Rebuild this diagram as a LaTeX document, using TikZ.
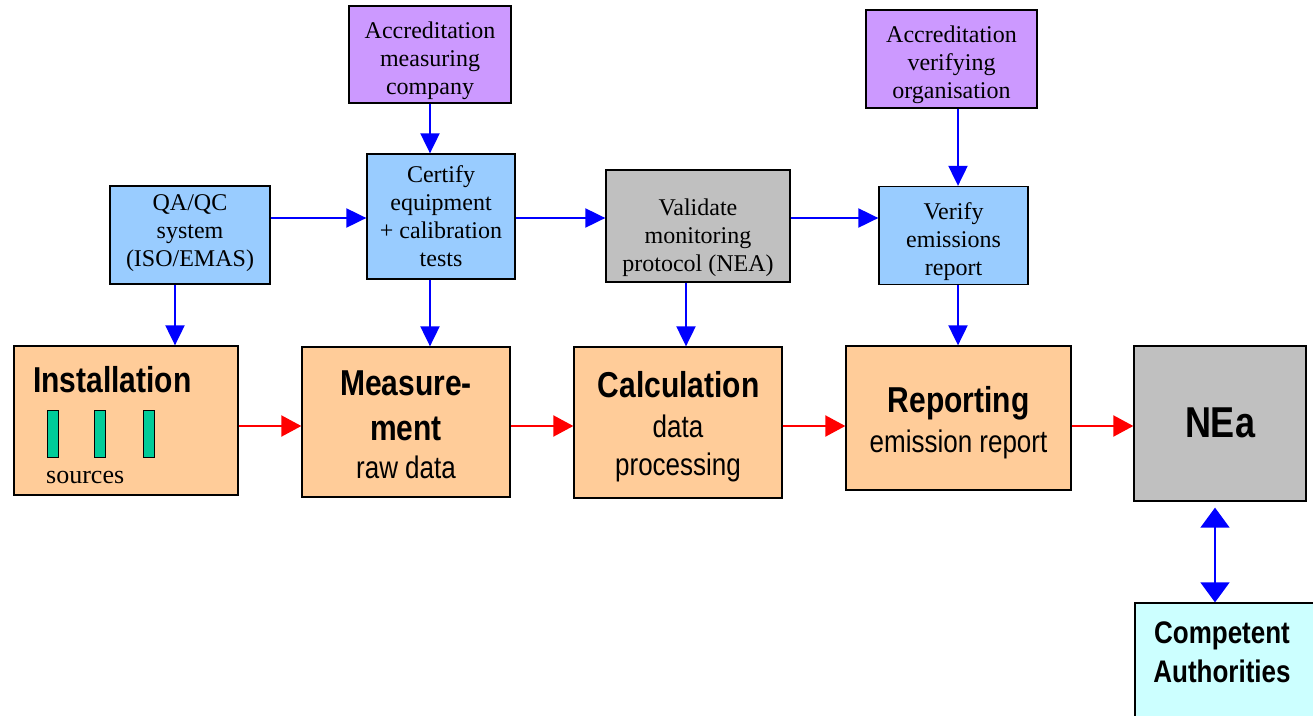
\documentclass[tikz,border=0pt]{standalone}
\usepackage{fontspec}
\setmainfont{Liberation Serif}
\newfontfamily\arialf{Liberation Sans}
\usetikzlibrary{arrows.meta}
\definecolor{lav}{HTML}{CC99FF}
\definecolor{lblue}{HTML}{99CCFF}
\definecolor{peach}{HTML}{FFCC99}
\definecolor{grayb}{HTML}{C0C0C0}
\definecolor{cyanb}{HTML}{CCFFFF}
\definecolor{srcg}{HTML}{00CC99}
\newcommand{\vst}[1]{\scalebox{1}[1.2]{#1}}
\begin{document}
\begin{tikzpicture}[x=1pt,y=-1pt,
  box/.style={draw=black, line width=1.3pt, rectangle, inner sep=0pt},
  ttext/.style={inner sep=0pt, align=center, font=\fontsize{24}{28}\selectfont},
  sbold/.style={inner sep=0pt, anchor=base, font=\arialf\bfseries\fontsize{30}{36}\selectfont},
  sreg/.style={inner sep=0pt, anchor=base, font=\arialf\fontsize{26}{32}\selectfont},
  barrow/.style={draw=blue, line width=2pt, -{Triangle[length=20pt,width=19pt]}},
  rarrow/.style={draw=red, line width=2pt, -{Triangle[length=20pt,width=21pt]}},
  darrow/.style={draw=blue, line width=1.6pt, {Triangle[length=20pt,width=29pt]}-{Triangle[length=20pt,width=29pt]}}
]
\useasboundingbox (0,0) rectangle (1313,715);
\fill[white] (0,0) rectangle (1313,715);

% top boxes
\node[box, fill=lav, minimum width=162pt, minimum height=97pt] (accm) at (430,54.5) {};
\node[ttext] (accmt) at (430,60.5) {Accreditation\\measuring\\company};
\node[box, fill=lav, minimum width=171pt, minimum height=98pt] (accv) at (951.5,59) {};
\node[ttext] (accvt) at (951.5,65) {Accreditation\\verifying\\organisation};
\node[box, fill=lblue, minimum width=160pt, minimum height=98pt] (qa) at (190,235) {};
\node[ttext] (qat) at (190,233) {QA/QC\\system\\(ISO/EMAS)};
\node[box, fill=lblue, minimum width=148pt, minimum height=125pt] (cert) at (441,216.5) {};
\node[ttext] (certt) at (441,216.5) {Certify\\equipment\\+ calibration\\tests};
\node[box, fill=grayb, minimum width=184pt, minimum height=112pt] (val) at (698,226) {};
\node[ttext] (valt) at (698,238) {Validate\\monitoring\\protocol (NEA)};
\node[box, fill=lblue, minimum width=149pt, minimum height=98pt] (ver) at (953.5,235.5) {};
\node[ttext] (vert) at (953.5,241.5) {Verify\\emissions\\report};

% main boxes
\node[box, fill=peach, minimum width=224pt, minimum height=149pt] (inst) at (126,420.5) {};
\node[box, fill=peach, minimum width=208pt, minimum height=150pt] (meas) at (406,422) {};
\node[box, fill=peach, minimum width=208pt, minimum height=151pt] (calc) at (678,422.5) {};
\node[box, fill=peach, minimum width=225pt, minimum height=144pt] (rep) at (958.5,418) {};
\node[box, fill=grayb, minimum width=172pt, minimum height=155pt] (nea) at (1220,423.5) {};
\node[box, fill=cyanb, minimum width=181pt, minimum height=117pt] (ca) at (1225.5,661.5) {};

% texts in main boxes
\node[sbold, anchor=base west] (instt) at (33,392) {\vst{Installation}};
\node[box, line width=1pt, fill=srcg, minimum width=11pt, minimum height=47pt] (src1) at (52.5,433.5) {};
\node[box, line width=1pt, fill=srcg, minimum width=11pt, minimum height=47pt] (src2) at (100,433.5) {};
\node[box, line width=1pt, fill=srcg, minimum width=11pt, minimum height=47pt] (src3) at (148.5,433.5) {};
\node[inner sep=0pt, anchor=base west, font=\fontsize{26}{30}\selectfont] (srct) at (46,483) {sources};

\node[sbold] (meas1) at (406,395) {\vst{Measure-}};
\node[sbold] (meas2) at (406,440) {\vst{ment}};
\node[sreg] (meas3) at (406,478) {\vst{raw data}};

\node[sbold] (calc1) at (678.5,397) {\vst{Calculation}};
\node[sreg] (calc2) at (678,437) {\vst{data}};
\node[sreg] (calc3) at (678,475) {\vst{processing}};

\node[sbold] (rep1) at (958.5,412) {\vst{Reporting}};
\node[sreg] (rep2) at (958.5,452) {\vst{emission report}};

\node[sbold, font=\arialf\bfseries\fontsize{36}{40}\selectfont] (neat) at (1220,437) {\vst{NEa}};

\node[sbold, font=\arialf\bfseries\fontsize{26}{30}\selectfont] (ca1) at (1222,643) {\vst{Competent}};
\node[sbold, font=\arialf\bfseries\fontsize{26}{30}\selectfont] (ca2) at (1222,682) {\vst{Authorities}};

% helper coordinates
\coordinate (xq) at (175,0);
\coordinate (xc) at (430,0);
\coordinate (xv) at (686,0);
\coordinate (xr) at (958,0);
\coordinate (xn) at (1215,0);
\coordinate (yh) at (0,218);
\coordinate (yr) at (0,426);

% blue arrows
\draw[barrow] (qa.south -| xq) -- (inst.north -| xq);
\draw[barrow] (accm.south -| xc) -- (cert.north -| xc);
\draw[barrow] (cert.south -| xc) -- (meas.north -| xc);
\draw[barrow] (val.south -| xv) -- (calc.north -| xv);
\draw[barrow] (accv.south -| xr) -- (ver.north -| xr);
\draw[barrow] (ver.south -| xr) -- (rep.north -| xr);
\draw[barrow] (qa.east |- yh) -- (cert.west |- yh);
\draw[barrow] (cert.east |- yh) -- (val.west |- yh);
\draw[barrow] (val.east |- yh) -- (ver.west |- yh);

% red arrows
\draw[rarrow] (inst.east |- yr) -- (meas.west |- yr);
\draw[rarrow] (meas.east |- yr) -- (calc.west |- yr);
\draw[rarrow] (calc.east |- yr) -- (rep.west |- yr);
\draw[rarrow] (rep.east |- yr) -- (nea.west |- yr);

% double arrow
\draw[darrow, shorten <=6pt] (nea.south -| xn) -- (ca.north -| xn);
\end{tikzpicture}
\end{document}
